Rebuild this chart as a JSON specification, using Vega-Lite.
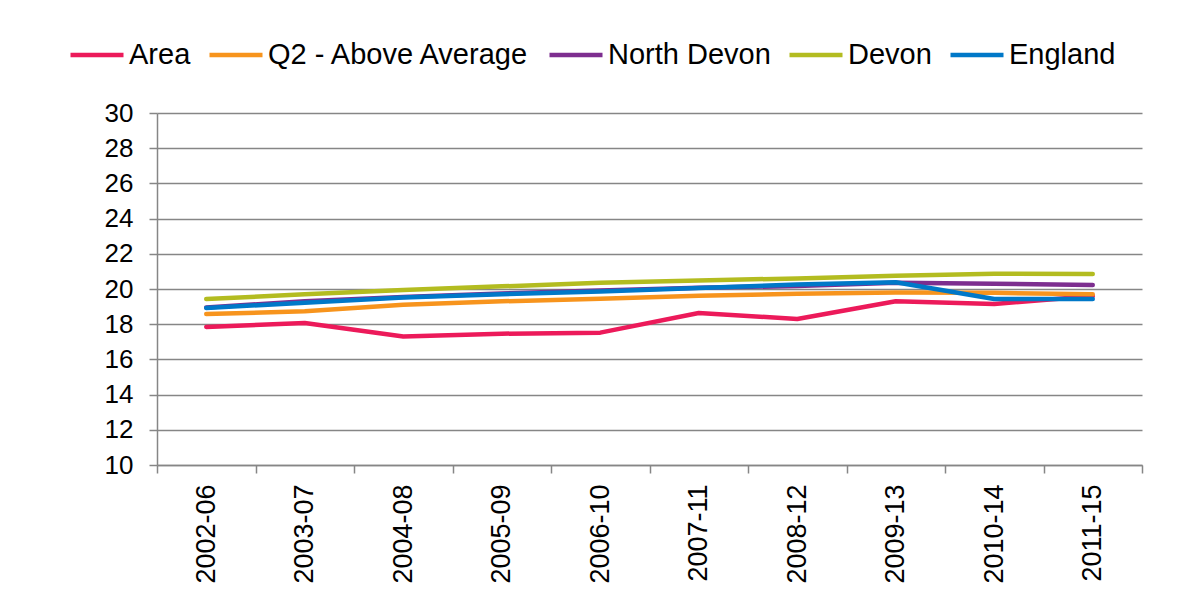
{
  "$schema": "https://vega.github.io/schema/vega-lite/v6.json",
  "width": 985,
  "height": 352,
  "autosize": {"type": "none"},
  "padding": {"left": 157, "top": 113, "right": 48, "bottom": 126},
  "background": "white",
  "data": {
    "values": [
      {"period": "2002-06", "series": "Area", "value": 17.84},
      {"period": "2003-07", "series": "Area", "value": 18.07},
      {"period": "2004-08", "series": "Area", "value": 17.3},
      {"period": "2005-09", "series": "Area", "value": 17.46},
      {"period": "2006-10", "series": "Area", "value": 17.52},
      {"period": "2007-11", "series": "Area", "value": 18.64},
      {"period": "2008-12", "series": "Area", "value": 18.3},
      {"period": "2009-13", "series": "Area", "value": 19.3},
      {"period": "2010-14", "series": "Area", "value": 19.15},
      {"period": "2011-15", "series": "Area", "value": 19.6},
      {"period": "2002-06", "series": "Q2 - Above Average", "value": 18.58},
      {"period": "2003-07", "series": "Q2 - Above Average", "value": 18.73},
      {"period": "2004-08", "series": "Q2 - Above Average", "value": 19.1},
      {"period": "2005-09", "series": "Q2 - Above Average", "value": 19.3},
      {"period": "2006-10", "series": "Q2 - Above Average", "value": 19.45},
      {"period": "2007-11", "series": "Q2 - Above Average", "value": 19.62},
      {"period": "2008-12", "series": "Q2 - Above Average", "value": 19.73},
      {"period": "2009-13", "series": "Q2 - Above Average", "value": 19.8},
      {"period": "2010-14", "series": "Q2 - Above Average", "value": 19.78},
      {"period": "2011-15", "series": "Q2 - Above Average", "value": 19.7},
      {"period": "2002-06", "series": "North Devon", "value": 18.95},
      {"period": "2003-07", "series": "North Devon", "value": 19.3},
      {"period": "2004-08", "series": "North Devon", "value": 19.55},
      {"period": "2005-09", "series": "North Devon", "value": 19.75},
      {"period": "2006-10", "series": "North Devon", "value": 19.92},
      {"period": "2007-11", "series": "North Devon", "value": 20.07},
      {"period": "2008-12", "series": "North Devon", "value": 20.17},
      {"period": "2009-13", "series": "North Devon", "value": 20.36},
      {"period": "2010-14", "series": "North Devon", "value": 20.3},
      {"period": "2011-15", "series": "North Devon", "value": 20.23},
      {"period": "2002-06", "series": "Devon", "value": 19.43},
      {"period": "2003-07", "series": "Devon", "value": 19.7},
      {"period": "2004-08", "series": "Devon", "value": 19.95},
      {"period": "2005-09", "series": "Devon", "value": 20.15},
      {"period": "2006-10", "series": "Devon", "value": 20.35},
      {"period": "2007-11", "series": "Devon", "value": 20.49},
      {"period": "2008-12", "series": "Devon", "value": 20.6},
      {"period": "2009-13", "series": "Devon", "value": 20.75},
      {"period": "2010-14", "series": "Devon", "value": 20.87},
      {"period": "2011-15", "series": "Devon", "value": 20.85},
      {"period": "2002-06", "series": "England", "value": 18.92},
      {"period": "2003-07", "series": "England", "value": 19.22},
      {"period": "2004-08", "series": "England", "value": 19.52},
      {"period": "2005-09", "series": "England", "value": 19.7},
      {"period": "2006-10", "series": "England", "value": 19.86},
      {"period": "2007-11", "series": "England", "value": 20.05},
      {"period": "2008-12", "series": "England", "value": 20.25},
      {"period": "2009-13", "series": "England", "value": 20.38},
      {"period": "2010-14", "series": "England", "value": 19.43},
      {"period": "2011-15", "series": "England", "value": 19.43}
    ]
  },
  "mark": {"type": "line", "strokeWidth": 4.5, "strokeCap": "round", "strokeJoin": "round"},
  "encoding": {
    "x": {
      "field": "period",
      "type": "ordinal",
      "scale": {"type": "band", "paddingInner": 0, "paddingOuter": 0},
      "axis": {
        "title": null,
        "labelAngle": -90,
        "labelAlign": "right",
        "labelBaseline": "middle",
        "labelFont": "Liberation Sans",
        "labelFontSize": 27,
        "labelColor": "black",
        "labelPadding": 11,
        "tickBand": "extent",
        "tickSize": 8,
        "tickColor": "#868686",
        "domainColor": "#868686",
        "domainWidth": 1.5,
        "tickWidth": 1.5,
        "grid": false
      }
    },
    "y": {
      "field": "value",
      "type": "quantitative",
      "scale": {"domain": [10, 30], "nice": false, "zero": false},
      "axis": {
        "title": null,
        "values": [10, 12, 14, 16, 18, 20, 22, 24, 26, 28, 30],
        "labelFont": "Liberation Sans",
        "labelFontSize": 26,
        "labelColor": "black",
        "labelPadding": 16,
        "tickSize": 8,
        "tickColor": "#868686",
        "tickWidth": 1.5,
        "domainColor": "#868686",
        "domainWidth": 1.5,
        "gridColor": "#868686",
        "gridWidth": 1.5
      }
    },
    "color": {
      "field": "series",
      "type": "nominal",
      "sort": ["Area", "Q2 - Above Average", "North Devon", "Devon", "England"],
      "scale": {
        "domain": ["Area", "Q2 - Above Average", "North Devon", "Devon", "England"],
        "range": ["#EC1A5A", "#F7941D", "#7D2E8F", "#B3BC20", "#0078C8"]
      },
      "legend": {
        "title": null,
        "orient": "none",
        "direction": "horizontal",
        "legendX": -89,
        "legendY": -87,
        "symbolType": "stroke",
        "symbolSize": 2809,
        "symbolStrokeWidth": 4.5,
        "labelFont": "Liberation Sans",
        "labelFontSize": 29,
        "labelColor": "black",
        "labelOffset": 3,
        "columnPadding": 9,
        "labelLimit": 400
      }
    }
  },
  "config": {"view": {"stroke": null}}
}
